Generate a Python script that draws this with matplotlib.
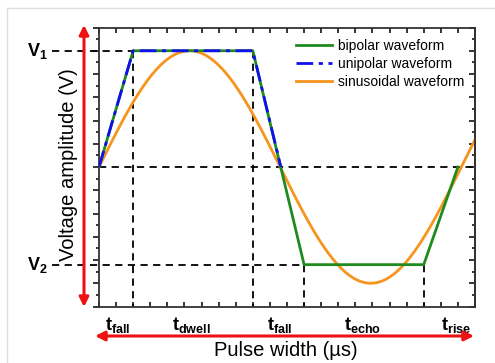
import numpy as np
import matplotlib
matplotlib.use('Agg')
import matplotlib.pyplot as plt
from matplotlib.lines import Line2D
from matplotlib.ticker import MultipleLocator, NullFormatter

plt.rcParams['font.family'] = ['Liberation Sans', 'DejaVu Sans']
plt.rcParams['mathtext.fontset'] = 'custom'
plt.rcParams['mathtext.rm'] = 'Liberation Sans'
plt.rcParams['mathtext.bf'] = 'Liberation Sans:bold'

# --- data (x in µs units, y in volts) ---
V1 = 5.0
V2 = -4.2
bip_x = [0, 1, 4.5, 6, 9.5, 10.5]
bip_y = [0, V1, V1, V2, V2, 0]
uni_x = [0, 1, 4.5, 5.32]
uni_y = [0, V1, V1, 0]
sin_period = 10.6
sin_amp = 5.0
sin_x = np.linspace(0, 11, 400)
sin_y = sin_amp * np.sin(2 * np.pi * sin_x / sin_period)

seg_labels = [r'$\mathbf{t_{fall}}$', r'$\mathbf{t_{dwell}}$', r'$\mathbf{t_{fall}}$',
              r'$\mathbf{t_{echo}}$', r'$\mathbf{t_{rise}}$']
seg_x = [0.55, 2.7, 5.3, 7.7, 10.45]

W, H = 495, 363
fig = plt.figure(figsize=(W / 100, H / 100), dpi=100)
ax = fig.add_axes([99 / W, 1 - 306.5 / H, 376 / W, 279 / H])
ax.set_xlim(0, 11)
ax.set_ylim(-6, 6)

# dashed guide lines
dash = dict(color='black', lw=1.3, ls=(0, (4, 3)), clip_on=False, zorder=1)
ax.plot([-1.38, 4.5], [V1, V1], **dash)
ax.plot([-1.38, 6], [V2, V2], **dash)
ax.plot([0, 11], [0, 0], **dash)
ax.plot([1, 1], [V1, -6], **dash)
ax.plot([4.5, 4.5], [V1, -6], **dash)
ax.plot([6, 6], [V2, -6], **dash)
ax.plot([9.5, 9.5], [V2, -6], **dash)

ax.plot(bip_x, bip_y, color='#1f8b1f', lw=2, label='bipolar waveform', zorder=3)
ax.plot(uni_x, uni_y, color='#1010ee', lw=2, ls=(0, (6, 2, 1.5, 2)),
        label='unipolar waveform', zorder=4)
ax.plot(sin_x, sin_y, color='#f7941d', lw=2, label='sinusoidal waveform', zorder=2)

leg = ax.legend(loc='upper right', bbox_to_anchor=(1.005, 1.005), frameon=False,
                fontsize=10, handlelength=2.6, handletextpad=0.4, labelspacing=0.3)

# ticks
ax.xaxis.set_major_locator(MultipleLocator(1))
ax.xaxis.set_minor_locator(MultipleLocator(0.5))
ax.yaxis.set_major_locator(MultipleLocator(1))
ax.yaxis.set_minor_locator(MultipleLocator(0.5))
ax.xaxis.set_major_formatter(NullFormatter())
ax.yaxis.set_major_formatter(NullFormatter())
ax.tick_params(axis='x', which='both', direction='in', top=True, length=3.5, width=1.1)
ax.tick_params(axis='y', which='major', direction='out', length=4, width=1.1)
ax.tick_params(axis='y', which='minor', direction='out', length=2.5, width=1.1)
sec = ax.secondary_yaxis('right')
sec.yaxis.set_major_locator(MultipleLocator(1))
sec.yaxis.set_minor_locator(MultipleLocator(0.5))
sec.yaxis.set_major_formatter(NullFormatter())
sec.tick_params(axis='y', which='major', direction='in', length=4, width=1.1)
sec.tick_params(axis='y', which='minor', direction='in', length=2.5, width=1.1)
sec.spines['right'].set_linewidth(1.3)
sec.spines['right'].set_color('#333333')
for s in ax.spines.values():
    s.set_linewidth(1.3)
    s.set_color('#333333')

# labels
ax.text(-1.8, V1, r'$\mathbf{V_1}$', fontsize=13, ha='center', va='center')
ax.text(-1.8, V2, r'$\mathbf{V_2}$', fontsize=13, ha='center', va='center')
for lx, lt in zip(seg_x, seg_labels):
    ax.text(lx, -6.35, lt, fontsize=13, ha='center', va='top')

fig.text(68 / W, 1 - 165 / H, 'Voltage amplitude (V)', rotation=90,
         ha='center', va='center', fontsize=14.5)
fig.text(286 / W, 1 - 350 / H, 'Pulse width (\u00b5s)', ha='center', va='center',
         fontsize=14.5)

# red arrows
arrow = dict(arrowstyle='<|-|>', color='#ee1111', lw=2.2, mutation_scale=14,
             shrinkA=0, shrinkB=0)
ax.annotate('', xy=(84, H - 25), xytext=(84, H - 307), xycoords='figure pixels',
            textcoords='figure pixels', arrowprops=arrow)
ax.annotate('', xy=(95, H - 336), xytext=(474, H - 336), xycoords='figure pixels',
            textcoords='figure pixels', arrowprops=arrow)

# light frame of the picture
fig.add_artist(Line2D([7 / W, 7 / W], [0, 1 - 8 / H], color='#dddddd', lw=1,
                      transform=fig.transFigure))
fig.add_artist(Line2D([7 / W, 1], [1 - 8 / H, 1 - 8 / H], color='#dddddd', lw=1,
                      transform=fig.transFigure))

fig.savefig('out.png', dpi=100)
